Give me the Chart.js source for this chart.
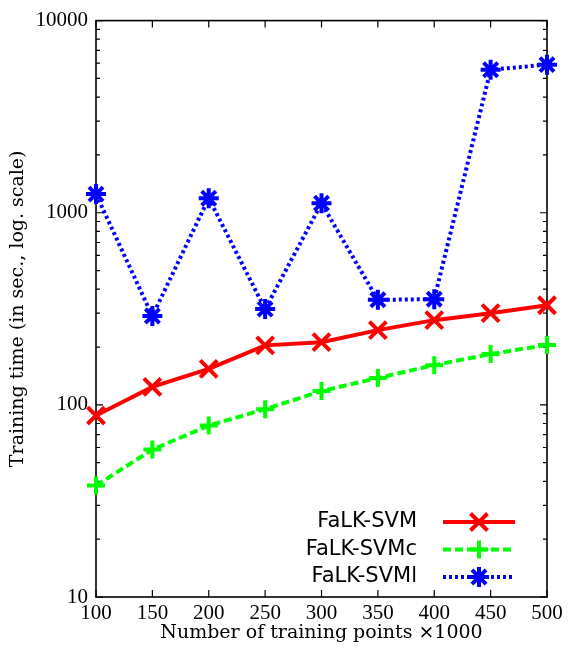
<!DOCTYPE html>
<html>
<head>
<meta charset="utf-8">
<script src="https://cdn.jsdelivr.net/npm/chart.js@4.4.1/dist/chart.umd.min.js"></script>
<style>
html, body { margin: 0; padding: 0; background: #fff; }
#wrap { width: 568px; height: 650px; position: relative; }
</style>
</head>
<body>
<div id="wrap"><canvas id="training"></canvas></div>
<script>
"use strict";

// data (x in thousands of points, y in seconds)
var points = ["100", "150", "200", "250", "300", "350", "400", "450", "500"];
var falkSvm = [88, 124, 154, 204, 212, 245, 276, 300, 330];
var falkSvmc = [38, 58.5, 78, 95, 118, 138, 161, 184, 205];
var falkSvml = [1250, 290, 1190, 315, 1120, 352, 355, 5550, 5900];
var yMajor = [10, 100, 1000, 10000];

var serif = "'Liberation Serif', 'DejaVu Serif', serif";
var titleFont = { family: "'DejaVu Serif', serif", size: 19 };

function marker(ctx, style, r, x, y) {
	ctx.beginPath();
	if (style === 'cross' || style === 'star') {
		ctx.moveTo(x - r, y); ctx.lineTo(x + r, y);
		ctx.moveTo(x, y - r); ctx.lineTo(x, y + r);
	}
	if (style === 'crossRot' || style === 'star') {
		var d = r * Math.SQRT1_2;
		ctx.moveTo(x - d, y - d); ctx.lineTo(x + d, y + d);
		ctx.moveTo(x + d, y - d); ctx.lineTo(x - d, y + d);
	}
	ctx.stroke();
}

// frame with inward ticks, like the gnuplot original
var framePlugin = {
	id: 'frame',
	beforeDatasetsDraw: function (chart) {
		var ctx = chart.ctx, a = chart.chartArea;
		var xs = chart.scales.x, ys = chart.scales.y;
		ctx.save();
		ctx.strokeStyle = '#000';
		ctx.lineWidth = 1.2;
		ctx.beginPath();
		points.forEach(function (p, i) {
			var px = xs.getPixelForValue(i);
			ctx.moveTo(px, a.bottom); ctx.lineTo(px, a.bottom - 7);
			ctx.moveTo(px, a.top); ctx.lineTo(px, a.top + 7);
		});
		yMajor.forEach(function (v, i) {
			var py = ys.getPixelForValue(v);
			ctx.moveTo(a.left, py); ctx.lineTo(a.left + 7, py);
			ctx.moveTo(a.right, py); ctx.lineTo(a.right - 7, py);
			if (i === yMajor.length - 1) return;
			for (var k = 2; k <= 9; k++) {
				var pm = ys.getPixelForValue(v * k);
				ctx.moveTo(a.left, pm); ctx.lineTo(a.left + 4, pm);
				ctx.moveTo(a.right, pm); ctx.lineTo(a.right - 4, pm);
			}
		});
		ctx.stroke();
		ctx.lineWidth = 1.6;
		ctx.strokeRect(a.left, a.top, a.right - a.left, a.bottom - a.top);
		ctx.restore();
	},
	afterDraw: function (chart) {
		var ctx = chart.ctx, a = chart.chartArea;
		ctx.save();
		ctx.font = "21px 'DejaVu Sans', sans-serif";
		ctx.textAlign = 'right';
		ctx.textBaseline = 'middle';
		chart.data.datasets.forEach(function (ds, i) {
			var y = a.bottom - 75 + i * 27.5;
			ctx.fillStyle = '#000';
			ctx.fillText(ds.label, a.right - 130, y);
			ctx.strokeStyle = ds.borderColor;
			ctx.lineWidth = ds.borderWidth;
			ctx.setLineDash(ds.borderDash || []);
			ctx.beginPath();
			ctx.moveTo(a.right - 104, y);
			ctx.lineTo(a.right - 32, y);
			ctx.stroke();
			ctx.setLineDash([]);
			ctx.lineWidth = ds.pointBorderWidth;
			marker(ctx, ds.pointStyle, ds.pointRadius, a.right - 68, y);
		});
		ctx.restore();
	}
};

var ctx = document.getElementById('training');
var chart = new Chart(ctx, {
	type: 'line',
	data: {
		labels: points,
		datasets: [
			{
				label: "FaLK-SVM",
				data: falkSvm,
				borderColor: "#ff0000",
				backgroundColor: "#ff0000",
				borderWidth: 4,
				pointStyle: 'crossRot',
				pointRadius: 12,
				pointBorderWidth: 4,
				pointBorderColor: "#ff0000",
				clip: false
			},
			{
				label: "FaLK-SVMc",
				data: falkSvmc,
				borderColor: "#00ff00",
				backgroundColor: "#00ff00",
				borderWidth: 4,
				borderDash: [8, 4],
				pointStyle: 'cross',
				pointRadius: 9,
				pointBorderWidth: 4,
				pointBorderColor: "#00ff00",
				clip: false
			},
			{
				label: "FaLK-SVMl",
				data: falkSvml,
				borderColor: "#0000ff",
				backgroundColor: "#0000ff",
				borderWidth: 4,
				borderDash: [3, 3],
				pointStyle: 'star',
				pointRadius: 10,
				pointBorderWidth: 4,
				pointBorderColor: "#0000ff",
				clip: false
			}
		]
	},
	options: {
		responsive: true,
		maintainAspectRatio: false,
		animation: false,
		layout: { padding: { top: 13, right: 21, left: 0, bottom: 0 } },
		plugins: {
			legend: { display: false },
			tooltip: { enabled: false }
		},
		scales: {
			x: {
				type: 'category',
				offset: false,
				grid: { display: false, drawTicks: false },
				border: { display: false },
				ticks: { color: '#000', padding: 4, maxRotation: 0, autoSkip: false, font: { family: serif, size: 21 } },
				title: { display: true, text: "Number of training points \u00d71000", color: '#000', padding: { top: 0, bottom: 6 }, font: titleFont },
				afterFit: function (s) { s.height = 53; }
			},
			y: {
				type: 'logarithmic',
				min: 10,
				max: 10000,
				grid: { display: false, drawTicks: false },
				border: { display: false },
				afterBuildTicks: function (s) {
					s.ticks = yMajor.map(function (v) { return { value: v, major: true }; });
				},
				ticks: {
					color: '#000',
					padding: 8,
					autoSkip: false,
					font: { family: serif, size: 21 },
					callback: function (v) { return String(v); }
				},
				title: { display: true, text: "Training time (in sec., log. scale)", color: '#000', padding: { top: 7, bottom: 0 }, font: titleFont },
				afterFit: function (s) { s.width = 96; }
			}
		}
	},
	plugins: [framePlugin]
});
</script>
</body>
</html>
